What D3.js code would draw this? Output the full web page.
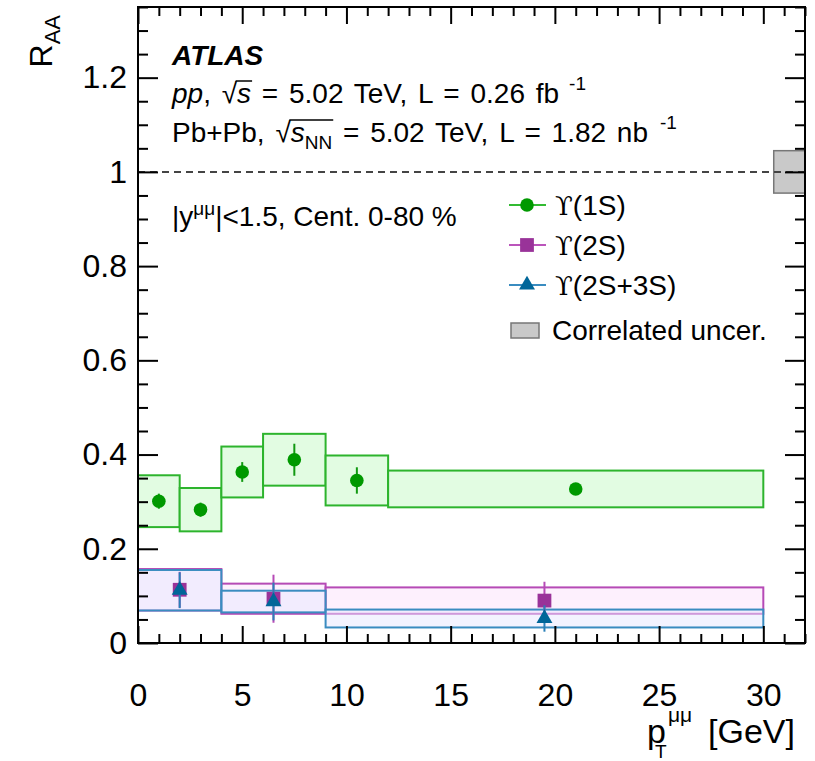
<!DOCTYPE html>
<html>
<head>
<meta charset="utf-8">
<script src="https://cdn.jsdelivr.net/npm/d3@7/dist/d3.min.js"></script>
<style>
  html, body { margin: 0; padding: 0; background: #fff; }
  svg text { font-family: "Liberation Sans", Arial, Helvetica, sans-serif; fill: #000; }
</style>
</head>
<body>
<svg id="chart" width="815" height="761"></svg>
<script>
// Υ(1S) nuclear modification factor vs dimuon pT
const bins1S   = [[0, 2], [2, 4], [4, 6], [6, 9], [9, 12], [12, 30]];
const pt1S     = [1.0, 3.0, 5.0, 7.5, 10.5, 21.0];
const raa1S    = [0.301, 0.283, 0.363, 0.389, 0.345, 0.327];
const stat1S   = [0.016, 0.015, 0.021, 0.034, 0.028, 0.008];
const sys1S    = [0.055, 0.046, 0.054, 0.055, 0.053, 0.039];

// Υ(2S)
const bins2S   = [[0, 4], [4, 9], [9, 30]];
const pt2S     = [2.0, 6.5, 19.5];
const raa2S    = [0.113, 0.094, 0.090];
const stat2S   = [0.038, 0.051, 0.040];
const sys2S    = [0.044, 0.032, 0.028];

// Υ(2S+3S)
const bins23S  = [[0, 4], [4, 9], [9, 30]];
const pt23S    = [2.0, 6.5, 19.5];
const raa23S   = [0.112, 0.088, 0.052];
const stat23S  = [0.038, 0.040, 0.028];
const sys23S   = [0.043, 0.023, 0.019];

// global correlated uncertainty around unity
const corrRange = [30.5, 32];
const corrUnc   = 0.045;

const xMajor = [0, 5, 10, 15, 20, 25, 30];
const yMajor = [0, 0.2, 0.4, 0.6, 0.8, 1, 1.2];
const yTickLabels = ["0", "0.2", "0.4", "0.6", "0.8", "1", "1.2"];

const svg = d3.select("#chart");
const x = d3.scaleLinear().domain([0, 32]).range([138, 805]);
const y = d3.scaleLinear().domain([0, 1.35]).range([643, 7]);

const xMinor = d3.range(0, 33, 1).filter(v => v % 5 !== 0);
const yMinor = d3.range(0, 1.351, 0.05).map(v => +v.toFixed(2)).filter(v => Math.round(v * 100) % 20 !== 0);

const s1 = { bins: bins1S, pt: pt1S, raa: raa1S, stat: stat1S, sys: sys1S,
  fill: "#e2fce2", stroke: "#2db42d", bar: "#119911", marker: "#009900",
  shape: d3.symbolCircle, size: 145, legendLine: "#33bb33" };
const s2 = { bins: bins2S, pt: pt2S, raa: raa2S, stat: stat2S, sys: sys2S,
  fill: "rgba(252,236,252,0.8)", stroke: "#b64ab6", bar: "#b64ab6", marker: "#993399",
  shape: d3.symbolSquare, size: 190, legendLine: "#bb55bb" };
const s3 = { bins: bins23S, pt: pt23S, raa: raa23S, stat: stat23S, sys: sys23S,
  fill: "rgba(232,232,255,0.5)", stroke: "#3a8cc0", bar: "#2a80b8", marker: "#006699",
  shape: d3.symbolTriangle, size: 110, legendLine: "#3a8cc0" };

const plot = svg.append("g");

function drawBoxes(s) {
  plot.append("g").selectAll("rect").data(s.bins).join("rect")
    .attr("x", (b) => x(b[0]))
    .attr("width", (b) => x(b[1]) - x(b[0]))
    .attr("y", (b, i) => y(s.raa[i] + s.sys[i]))
    .attr("height", (b, i) => y(s.raa[i] - s.sys[i]) - y(s.raa[i] + s.sys[i]))
    .attr("fill", s.fill)
    .attr("stroke", s.stroke)
    .attr("stroke-width", 2);
}
function drawPoints(s) {
  const g = plot.append("g");
  g.selectAll("line").data(s.pt).join("line")
    .attr("x1", d => x(d)).attr("x2", d => x(d))
    .attr("y1", (d, i) => y(s.raa[i] + s.stat[i]))
    .attr("y2", (d, i) => y(s.raa[i] - s.stat[i]))
    .attr("stroke", s.bar)
    .attr("stroke-width", 2);
  g.selectAll("path").data(s.pt).join("path")
    .attr("transform", (d, i) => `translate(${x(d)},${y(s.raa[i])})`)
    .attr("d", d3.symbol().type(s.shape).size(s.size))
    .attr("fill", s.marker);
}

drawBoxes(s1);
drawBoxes(s2);
drawBoxes(s3);

// correlated uncertainty box
plot.append("rect")
  .attr("x", x(corrRange[0])).attr("width", x(corrRange[1]) - x(corrRange[0]))
  .attr("y", y(1 + corrUnc)).attr("height", y(1 - corrUnc) - y(1 + corrUnc))
  .attr("fill", "#c9c9c9").attr("stroke", "#777").attr("stroke-width", 1.5);

// reference line at unity
plot.append("line")
  .attr("x1", x(0)).attr("x2", x(32))
  .attr("y1", y(1)).attr("y2", y(1))
  .attr("stroke", "#444").attr("stroke-width", 2)
  .attr("stroke-dasharray", "7,5");

drawPoints(s1);
drawPoints(s2);
drawPoints(s3);

// axes: inward ticks on all four sides
function tickAxis(axisFn, scale, vals, size, tr) {
  const g = svg.append("g").attr("transform", tr)
    .call(axisFn(scale).tickValues(vals).tickSize(size).tickFormat(""));
  g.select(".domain").remove();
  g.selectAll("line").attr("stroke", "#000").attr("stroke-width", 2);
  return g;
}
tickAxis(d3.axisBottom, x, xMajor, -17, "translate(0,643)");
tickAxis(d3.axisBottom, x, xMinor, -9, "translate(0,643)");
tickAxis(d3.axisTop, x, xMajor, -17, "translate(0,7)");
tickAxis(d3.axisTop, x, xMinor, -9, "translate(0,7)");
tickAxis(d3.axisLeft, y, yMajor, -20, "translate(138,0)");
tickAxis(d3.axisLeft, y, yMinor, -10, "translate(138,0)");
tickAxis(d3.axisRight, y, yMajor, -20, "translate(805,0)");
tickAxis(d3.axisRight, y, yMinor, -10, "translate(805,0)");

// tick labels
const xl = svg.append("g").attr("transform", "translate(0,643)")
  .call(d3.axisBottom(x).tickValues(xMajor).tickSize(0).tickPadding(40));
xl.select(".domain").remove();
xl.selectAll("text").attr("font-size", 32).attr("font-family", "Liberation Sans");
const yl = svg.append("g").attr("transform", "translate(138,0)")
  .call(d3.axisLeft(y).tickValues(yMajor).tickSize(0).tickPadding(11)
    .tickFormat((d, i) => yTickLabels[i]));
yl.select(".domain").remove();
yl.selectAll("text").attr("font-size", 32).attr("font-family", "Liberation Sans");

// frame
svg.append("rect").attr("x", 138).attr("y", 7).attr("width", 805 - 138).attr("height", 643 - 7)
  .attr("fill", "none").attr("stroke", "#000").attr("stroke-width", 2);

// axis titles
const yt = svg.append("text").attr("transform", "translate(52,15) rotate(-90)")
  .attr("text-anchor", "end").attr("font-size", 32);
yt.append("tspan").text("R");
yt.append("tspan").attr("font-size", 22).attr("dy", 8).text("AA");

const xtitle = svg.append("g").attr("font-size", 34);
xtitle.append("text").attr("x", 647).attr("y", 743).text("p");
xtitle.append("text").attr("x", 668).attr("y", 722).attr("font-size", 21).text("μμ");
xtitle.append("text").attr("x", 655).attr("y", 758).attr("font-size", 19).text("T");
xtitle.append("text").attr("x", 795).attr("y", 743).attr("text-anchor", "end").text("[GeV]");

// annotations
const ann = svg.append("g").attr("font-size", 28);
ann.append("text").attr("x", 172).attr("y", 65).attr("font-weight", "bold").attr("font-style", "italic").text("ATLAS");

// bar of a radical sign over the characters [from, to] of a text node
function radicalBar(textSel, from, to, top) {
  const node = textSel.node();
  const root = node.getExtentOfChar(from - 1);
  const b = node.getExtentOfChar(to);
  ann.append("line")
    .attr("x1", root.x + root.width - 1.5).attr("x2", b.x + b.width + 1)
    .attr("y1", top).attr("y2", top)
    .attr("stroke", "#000").attr("stroke-width", 1.5);
}

const l1 = ann.append("text").attr("x", 172).attr("y", 103).attr("word-spacing", 3);
l1.append("tspan").attr("font-style", "italic").text("pp");
l1.append("tspan").text(", √");
l1.append("tspan").attr("font-style", "italic").text("s");
l1.append("tspan").text(" = 5.02 TeV, L = 0.26 fb");
l1.append("tspan").attr("font-size", 19).attr("dx", 10).attr("dy", -13).text("-1");
radicalBar(l1, 5, 5, 81);

const l2 = ann.append("text").attr("x", 172).attr("y", 142).attr("word-spacing", 3);
l2.append("tspan").text("Pb+Pb, √");
l2.append("tspan").attr("font-style", "italic").text("s");
l2.append("tspan").attr("font-size", 19).attr("dy", 7).text("NN");
l2.append("tspan").attr("dy", -7).text(" = 5.02 TeV, L = 1.82 nb");
l2.append("tspan").attr("font-size", 19).attr("dx", 12).attr("dy", -13).text("-1");
radicalBar(l2, 8, 10, 120);

const l3 = ann.append("text").attr("x", 172).attr("y", 226);
l3.append("tspan").text("|y");
l3.append("tspan").attr("font-size", 19).attr("dy", -11).text("μμ");
l3.append("tspan").attr("dy", 11).text("|<1.5, Cent. 0-80 %");

// legend
const legend = [
  { s: s1, label: "(1S)", y: 205 },
  { s: s2, label: "(2S)", y: 245 },
  { s: s3, label: "(2S+3S)", y: 285 },
];
const lg = svg.append("g").attr("font-size", 28);
legend.forEach(e => {
  lg.append("line").attr("x1", 509).attr("x2", 546).attr("y1", e.y).attr("y2", e.y)
    .attr("stroke", e.s.legendLine).attr("stroke-width", 2);
  lg.append("path").attr("transform", `translate(527,${e.y})`)
    .attr("d", d3.symbol().type(e.s.shape).size(e.s.size)).attr("fill", e.s.marker);
  const t = lg.append("text").attr("x", 555).attr("y", e.y + 10);
  t.append("tspan").attr("font-family", "DejaVu Serif").attr("font-size", 26).text("ϒ");
  t.append("tspan").text(e.label);
});
lg.append("rect").attr("x", 511).attr("y", 323).attr("width", 28).attr("height", 15)
  .attr("fill", "#c9c9c9").attr("stroke", "#777").attr("stroke-width", 1.5);
lg.append("text").attr("x", 552).attr("y", 340).text("Correlated uncer.");
</script>
</body>
</html>
